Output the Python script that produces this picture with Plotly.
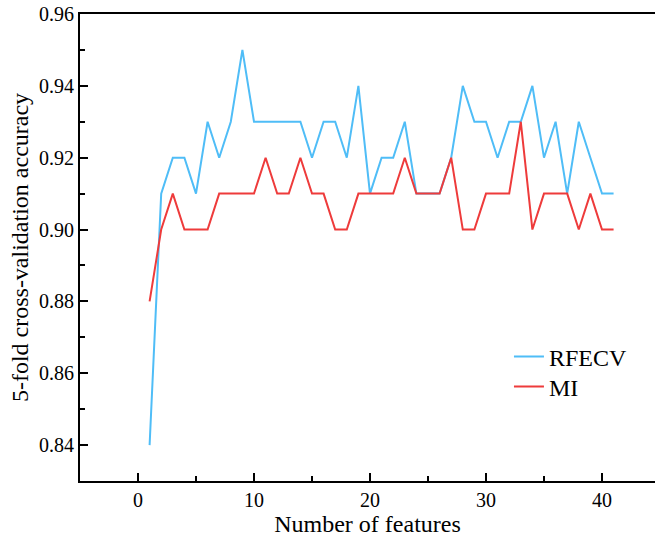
import plotly.graph_objects as go

n_features = list(range(1, 42))
rfecv_acc = [0.84, 0.91, 0.92, 0.92, 0.91, 0.93, 0.92, 0.93, 0.95, 0.93,
             0.93, 0.93, 0.93, 0.93, 0.92, 0.93, 0.93, 0.92, 0.94, 0.91,
             0.92, 0.92, 0.93, 0.91, 0.91, 0.91, 0.92, 0.94, 0.93, 0.93,
             0.92, 0.93, 0.93, 0.94, 0.92, 0.93, 0.91, 0.93, 0.92, 0.91,
             0.91]
mi_acc = [0.88, 0.90, 0.91, 0.90, 0.90, 0.90, 0.91, 0.91, 0.91, 0.91,
          0.92, 0.91, 0.91, 0.92, 0.91, 0.91, 0.90, 0.90, 0.91, 0.91,
          0.91, 0.91, 0.92, 0.91, 0.91, 0.91, 0.92, 0.90, 0.90, 0.91,
          0.91, 0.91, 0.93, 0.90, 0.91, 0.91, 0.91, 0.90, 0.91, 0.90,
          0.90]
x_ticks = [0, 10, 20, 30, 40]
y_ticks = [0.84, 0.86, 0.88, 0.90, 0.92, 0.94, 0.96]

FONT = "Liberation Serif, Times New Roman, serif"

fig = go.Figure()
fig.add_trace(go.Scatter(x=n_features, y=rfecv_acc, mode="lines", name="RFECV",
                         line=dict(color="#4FBDF7", width=2), legend="legend"))
fig.add_trace(go.Scatter(x=n_features, y=mi_acc, mode="lines", name="MI",
                         line=dict(color="#EE3B3B", width=2), legend="legend2"))

leg_common = dict(xanchor="left", yanchor="middle",
                  font=dict(size=24, family=FONT), bgcolor="rgba(0,0,0,0)")

fig.update_layout(
    width=655, height=539,
    margin=dict(l=80, r=0, t=14, b=58, autoexpand=False),
    plot_bgcolor="white", paper_bgcolor="white",
    font=dict(family=FONT, color="black", size=20),
    showlegend=True,
    legend=dict(x=0.746, y=0.2655, **leg_common),
    legend2=dict(x=0.746, y=0.2013, **leg_common),
    xaxis=dict(range=[-5, 44.57], tickvals=x_ticks, ticks="inside", ticklen=8,
               tickwidth=2, tickcolor="black", showline=True, linewidth=2,
               linecolor="black", mirror=True, showgrid=False, zeroline=False,
               automargin=False,
               tickfont=dict(size=20, family=FONT),
               minor=dict(dtick=5, tick0=0, ticks="inside", ticklen=5,
                          tickwidth=2, tickcolor="black", showgrid=False),
               title=dict(text="Number of features", font=dict(size=24, family=FONT),
                          standoff=2)),
    yaxis=dict(range=[0.83, 0.96], tickvals=y_ticks, tickformat=".2f",
               ticks="inside", ticklen=8, tickwidth=2, tickcolor="black",
               showline=True, linewidth=2, linecolor="black", mirror=False,
               showgrid=False, zeroline=False, automargin=False,
               tickfont=dict(size=20, family=FONT),
               minor=dict(dtick=0.01, tick0=0.83, ticks="inside", ticklen=5,
                          tickwidth=2, tickcolor="black", showgrid=False),
               title=dict(text="5-fold cross-validation accuracy",
                          font=dict(size=24, family=FONT), standoff=4)),
)

fig.write_html(
    "out.html",
    config={"displayModeBar": False},
    post_script="document.body.style.margin='0';document.body.style.overflow='hidden';",
)
